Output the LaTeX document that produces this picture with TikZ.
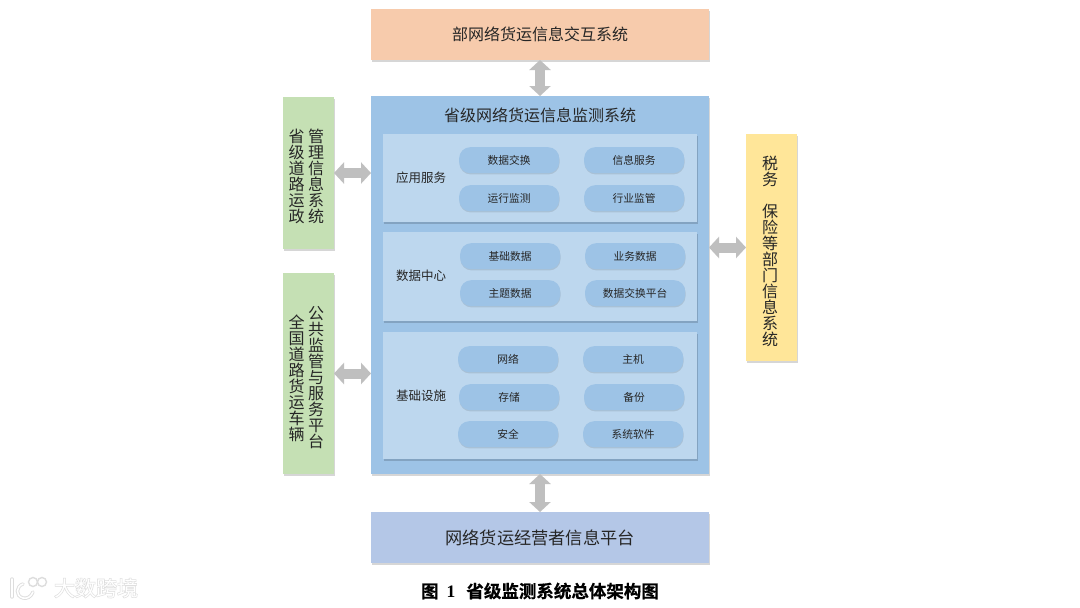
\documentclass[tikz,border=0pt]{standalone}
\usepackage{fontspec}
\setmainfont{Noto Sans CJK SC}
\newfontfamily\halofont[FakeBold=5]{Noto Sans CJK SC}
\newfontfamily\capfont[FakeBold=0.6]{Noto Sans CJK SC Bold}
\newfontfamily\capserif{Liberation Serif}
\usetikzlibrary{shadows,arrows.meta,calc}
\definecolor{topc}{HTML}{F7CBAC}
\definecolor{sysc}{HTML}{9DC3E6}
\definecolor{panelc}{HTML}{BDD7EE}
\definecolor{greenc}{HTML}{C5E0B4}
\definecolor{yellowc}{HTML}{FFE699}
\definecolor{botc}{HTML}{B4C7E7}
\definecolor{arrowc}{HTML}{BFBFBF}
\definecolor{textc}{HTML}{262626}
\definecolor{wmgray}{HTML}{DDDDDD}
\tikzset{
  x=1pt,y=-1pt,
  softshadow/.style={drop shadow={shadow xshift=0.5pt,shadow yshift=-1.5pt,opacity=.16,fill=black}},
  boxbase/.style={rectangle,anchor=north west,inner sep=0pt,outer sep=0pt,softshadow},
  blockbox/.style={boxbase,text=textc,font=\fontsize{16}{18}\selectfont},
  panelbox/.style={boxbase,fill=panelc},
  pill/.style={rectangle,rounded corners=11pt,fill=sysc,minimum width=100pt,minimum height=26pt,inner sep=0pt,anchor=north west,text=textc,font=\fontsize{10.75}{12}\selectfont,drop shadow={shadow xshift=0.3pt,shadow yshift=-1.2pt,opacity=.1,fill=black}},
  label/.style={text=textc,font=\fontsize{12.5}{14}\selectfont,inner sep=0pt},
  vtext/.style={text=textc,font=\fontsize{16}{16}\selectfont,align=center,inner sep=0pt},
  bigarrow/.style={draw=arrowc,line width=10pt,{Triangle[length=10pt,width=21pt]}-{Triangle[length=10pt,width=21pt]}},
  wmhalo/.style={font=\fontsize{21}{22}\selectfont\halofont,text=wmgray,inner sep=0pt},
  wmface/.style={font=\fontsize{21}{22}\selectfont,text=white,inner sep=0pt},
  wmout/.style={draw=wmgray,line width=3.4pt,line cap=round},
  wmin/.style={draw=white,line width=1.6pt,line cap=round},
}
\begin{document}
\begin{tikzpicture}
\useasboundingbox (0,0) rectangle (1080,608);
\fill[white] (0,0) rectangle (1080,608);
% blocks
\node[blockbox,fill=topc,minimum width=338pt,minimum height=51pt] (top) at (371,9) {部网络货运信息交互系统};
\node[boxbase,fill=sysc,minimum width=338pt,minimum height=378pt] (sys) at (371,96) {};
\node[blockbox,fill=botc,minimum width=338pt,minimum height=51pt,font=\fontsize{17.2}{18}\selectfont] (bot) at (371,512) {网络货运经营者信息平台};
\node[boxbase,fill=greenc,minimum width=51pt,minimum height=152pt] (prov) at (283,97) {};
\node[boxbase,fill=greenc,minimum width=51pt,minimum height=201pt] (pub) at (283,273) {};
\node[boxbase,fill=yellowc,minimum width=51pt,minimum height=227pt] (tax) at (746,134) {};
% system title
\node[label,font=\fontsize{16}{18}\selectfont] (systitle) at (540,115) {省级网络货运信息监测系统};
% panels
\node[panelbox,minimum width=314pt,minimum height=88pt] (p1) at (383,134) {};
\node[panelbox,minimum width=314pt,minimum height=89pt] (p2) at (383,232) {};
\node[panelbox,minimum width=314pt,minimum height=127pt] (p3) at (383,332) {};
\node[label] (l1) at (421,178) {应用服务};
\node[label] (l2) at (421,276) {数据中心};
\node[label] (l3) at (421,396) {基础设施};
% pills
\node[pill] (a1) at (459,147) {数据交换};
\node[pill] (a2) at (584,147) {信息服务};
\node[pill] (a3) at (459,185) {运行监测};
\node[pill] (a4) at (584,185) {行业监管};
\node[pill] (b1) at (460,243) {基础数据};
\node[pill] (b2) at (585,243) {业务数据};
\node[pill] (b3) at (460,280) {主题数据};
\node[pill] (b4) at (585,280) {数据交换平台};
\node[pill] (c1) at (458,346) {网络};
\node[pill] (c2) at (583,346) {主机};
\node[pill] (c3) at (459,384) {存储};
\node[pill] (c4) at (584,384) {备份};
\node[pill] (c5) at (458,421) {安全};
\node[pill] (c6) at (583,421) {系统软件};
% vertical text
\node[vtext] (v1) at (316,176.5) {管\\理\\信\\息\\系\\统};
\node[vtext] (v2) at (296.5,176.5) {省\\级\\道\\路\\运\\政};
\node[vtext] (v3) at (316,378) {公\\共\\监\\管\\与\\服\\务\\平\\台};
\node[vtext] (v4) at (296.5,378) {全\\国\\道\\路\\货\\运\\车\\辆};
\node[vtext] (v5) at (770,251.5) {税\\务\\[16pt]保\\险\\等\\部\\门\\信\\息\\系\\统};
% arrows
\draw[bigarrow] (top.south -| 540,60) -- (sys.north -| 540,96);
\draw[bigarrow] (sys.south) -- (bot.north);
\draw[bigarrow] (prov.east) -- (prov.east -| sys.west);
\draw[bigarrow] (pub.east) -- (pub.east -| sys.west);
\draw[bigarrow] (sys.east |- tax.west) -- (tax.west);
% caption
\node[font=\fontsize{17.5}{18}\selectfont\capfont,text=black,inner sep=0pt] (cap) at (540,591) {图\hspace{8pt}{\capserif\bfseries 1}\hspace{11pt}省级监测系统总体架构图};
% watermark
\node[wmhalo] (wmh) at (96,588) {大数跨境};
\node[wmface] (wm) at (96,588) {大数跨境};
\foreach \s in {wmout,wmin}{
  \draw[\s] (12,579) -- (12,597);
  \draw[\s] (23,584) .. controls (16,586) and (15,596) .. (23,598) .. controls (27,599) and (31,597) .. (33,592);
}
\draw[wmgray,line width=1.4pt,fill=white] (33,582) circle (4.5);
\draw[wmgray,line width=1.4pt,fill=white] (42,582) circle (4.5);
\end{tikzpicture}
\end{document}
